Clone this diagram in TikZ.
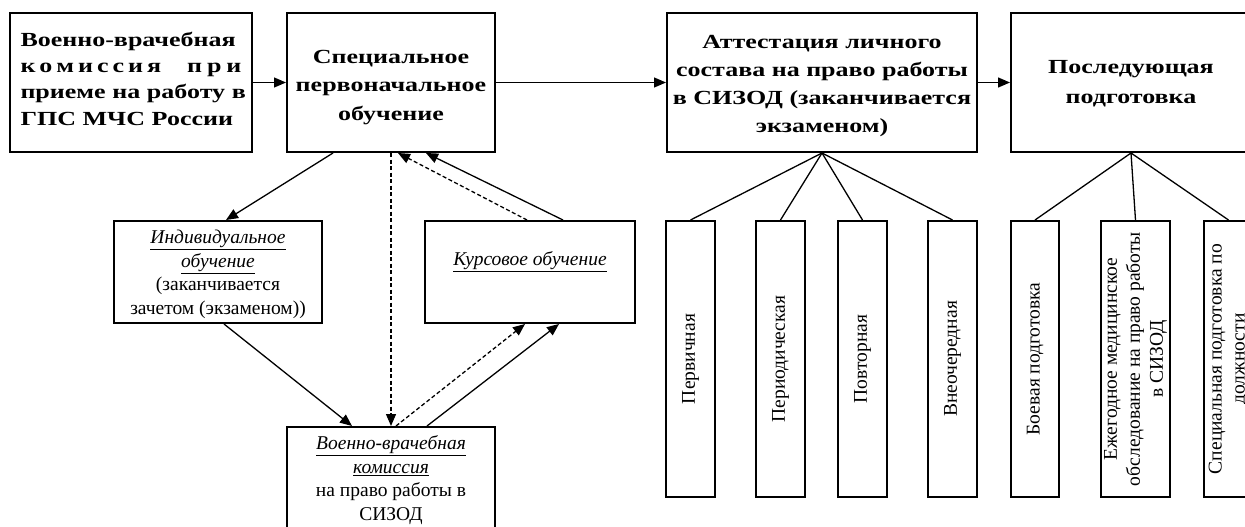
\documentclass[tikz,border=0pt]{standalone}
\usepackage{fontspec}
\usepackage{graphicx}
\setmainfont{Liberation Serif}
\newfontfamily\widebold[FakeStretch=1.3]{Liberation Serif}
\usetikzlibrary{arrows.meta,calc}
\tikzset{
  box/.style={draw, line width=2pt, inner sep=0pt, align=center},
  vbox/.style={box, minimum width=49pt, minimum height=276pt},
  conn/.style={line width=1.3pt},
  arr/.style={conn, -{Triangle[length=12pt,width=10pt]}},
  dsh/.style={dash pattern=on 4pt off 2.5pt},
  regfont/.style={font=\fontsize{19.5pt}{23.5pt}\selectfont},
  txt/.style={inner sep=0pt, align=center},
}
\newcommand{\vtext}[2]{\rotatebox{90}{\parbox{#1}{\centering\fontsize{19.5pt}{23pt}\selectfont #2}}}
\begin{document}
\begin{tikzpicture}[x=1pt,y=-1pt]
\useasboundingbox (0,0) rectangle (1245,527);
\fill[white] (0,0) rectangle (1245,527);
\clip (0,0) rectangle (1245,527);

% top row
\node[box, minimum width=242pt, minimum height=139pt] (b1) at (131,82.5) {};
\node[font=\widebold\bfseries\fontsize{20pt}{26.3pt}\selectfont, text width=221pt, align=left, inner sep=0pt] (t1) at ([yshift=4pt]b1.center)
 {Военно-врачебная\\
  \makebox[221pt]{к\hspace{4pt}о\hspace{4pt}м\hspace{4pt}и\hspace{4pt}с\hspace{4pt}с\hspace{4pt}и\hspace{4pt}я\hfill п\hspace{5pt}р\hspace{5pt}и}\\
  \makebox[221pt][s]{приеме на работу в}\\
  ГПС МЧС России};

\node[box, minimum width=208pt, minimum height=139pt] (b2) at (391,82.5) {};
\node[txt, font=\widebold\bfseries\fontsize{20pt}{28.5pt}\selectfont] (t2) at ([yshift=-5pt]b2.center)
 {Специальное\\первоначальное\\обучение};
\node[box, minimum width=310pt, minimum height=139pt] (b3) at (822,82.5) {};
\node[txt, font=\widebold\bfseries\fontsize{20pt}{28.3pt}\selectfont] (t3) at ([yshift=-3.5pt]b3.center)
 {Аттестация личного\\состава на право работы\\в СИЗОД (заканчивается\\экзаменом)};
\node[box, minimum width=240pt, minimum height=139pt] (b4) at (1131,82.5) {};
\node[txt, font=\widebold\bfseries\fontsize{20pt}{30pt}\selectfont] (t4) at ([yshift=-1.5pt]b4.center)
 {Последующая\\подготовка};

\draw[arr] (b1.east) -- (b2.west);
\draw[arr] (b2.east) -- (b3.west);
\draw[arr] (b3.east) -- (b4.west);

% vertical boxes under b3
\node[vbox] (p1) at (690.5,359) {\vtext{260pt}{Первичная}};
\node[vbox] (p2) at (780.5,359) {\vtext{260pt}{Периодическая}};
\node[vbox] (p3) at (862.5,359) {\vtext{260pt}{Повторная}};
\node[vbox] (p4) at (952.5,359) {\vtext{260pt}{Внеочередная}};
\draw[conn] (b3.south) -- (p1.north);
\draw[conn] (b3.south) -- (p2.north);
\draw[conn] (b3.south) -- (p3.north);
\draw[conn] (b3.south) -- (p4.north);

% vertical boxes under b4
\node[vbox, minimum width=48pt] (q1) at (1035,359) {\vtext{260pt}{Боевая подготовка}};
\node[vbox, minimum width=69pt] (q2) at (1135.5,359) {\vtext{270pt}{Ежегодное медицинское\\обследование на право работы\\в СИЗОД}};
\node[vbox] (q3) at (1228.5,359) {\vtext{270pt}{Специальная подготовка по\\должности}};
\draw[conn] (b4.south) -- (q1.north);
\draw[conn] (b4.south) -- (q2.north);
\draw[conn] (b4.south) -- (q3.north);

% middle part
\node[box, minimum width=208pt, minimum height=102pt] (ind) at (218,272) {};
\node[txt, regfont] (it) at ([yshift=-2.5pt]ind.center)
 {\underline{\textit{Индивидуальное}}\\\underline{\textit{обучение}}\\(заканчивается\\зачетом (экзаменом))};
\node[box, minimum width=210pt, minimum height=102pt] (kurs) at (530,272) {};
\node[txt, regfont] (kt) at ([yshift=10pt]kurs.center) {\underline{\textit{Курсовое обучение}}};
\node[box, minimum width=208pt, minimum height=102pt] (vvk) at (391,478) {};
\node[txt, regfont] (vt) at ([yshift=-2pt]vvk.center)
 {\underline{\textit{Военно-врачебная}}\\\underline{\textit{комиссия}}\\на право работы в\\СИЗОД};

\draw[arr] ([xshift=-58pt]b2.south) -- ([xshift=8pt]ind.north);
\draw[arr,dsh] (b2.south) -- (vvk.north);
\draw[arr,dsh] ([xshift=-3pt]kurs.north) -- ([xshift=7pt]b2.south);
\draw[arr] ([xshift=33pt]kurs.north) -- ([xshift=35pt]b2.south);
\draw[arr] ([xshift=6pt]ind.south) -- ([xshift=-39pt]vvk.north);
\draw[arr,dsh] ([xshift=5pt]vvk.north) -- ([xshift=-5pt]kurs.south);
\draw[arr] ([xshift=36pt]vvk.north) -- ([xshift=29pt]kurs.south);
\end{tikzpicture}
\end{document}
